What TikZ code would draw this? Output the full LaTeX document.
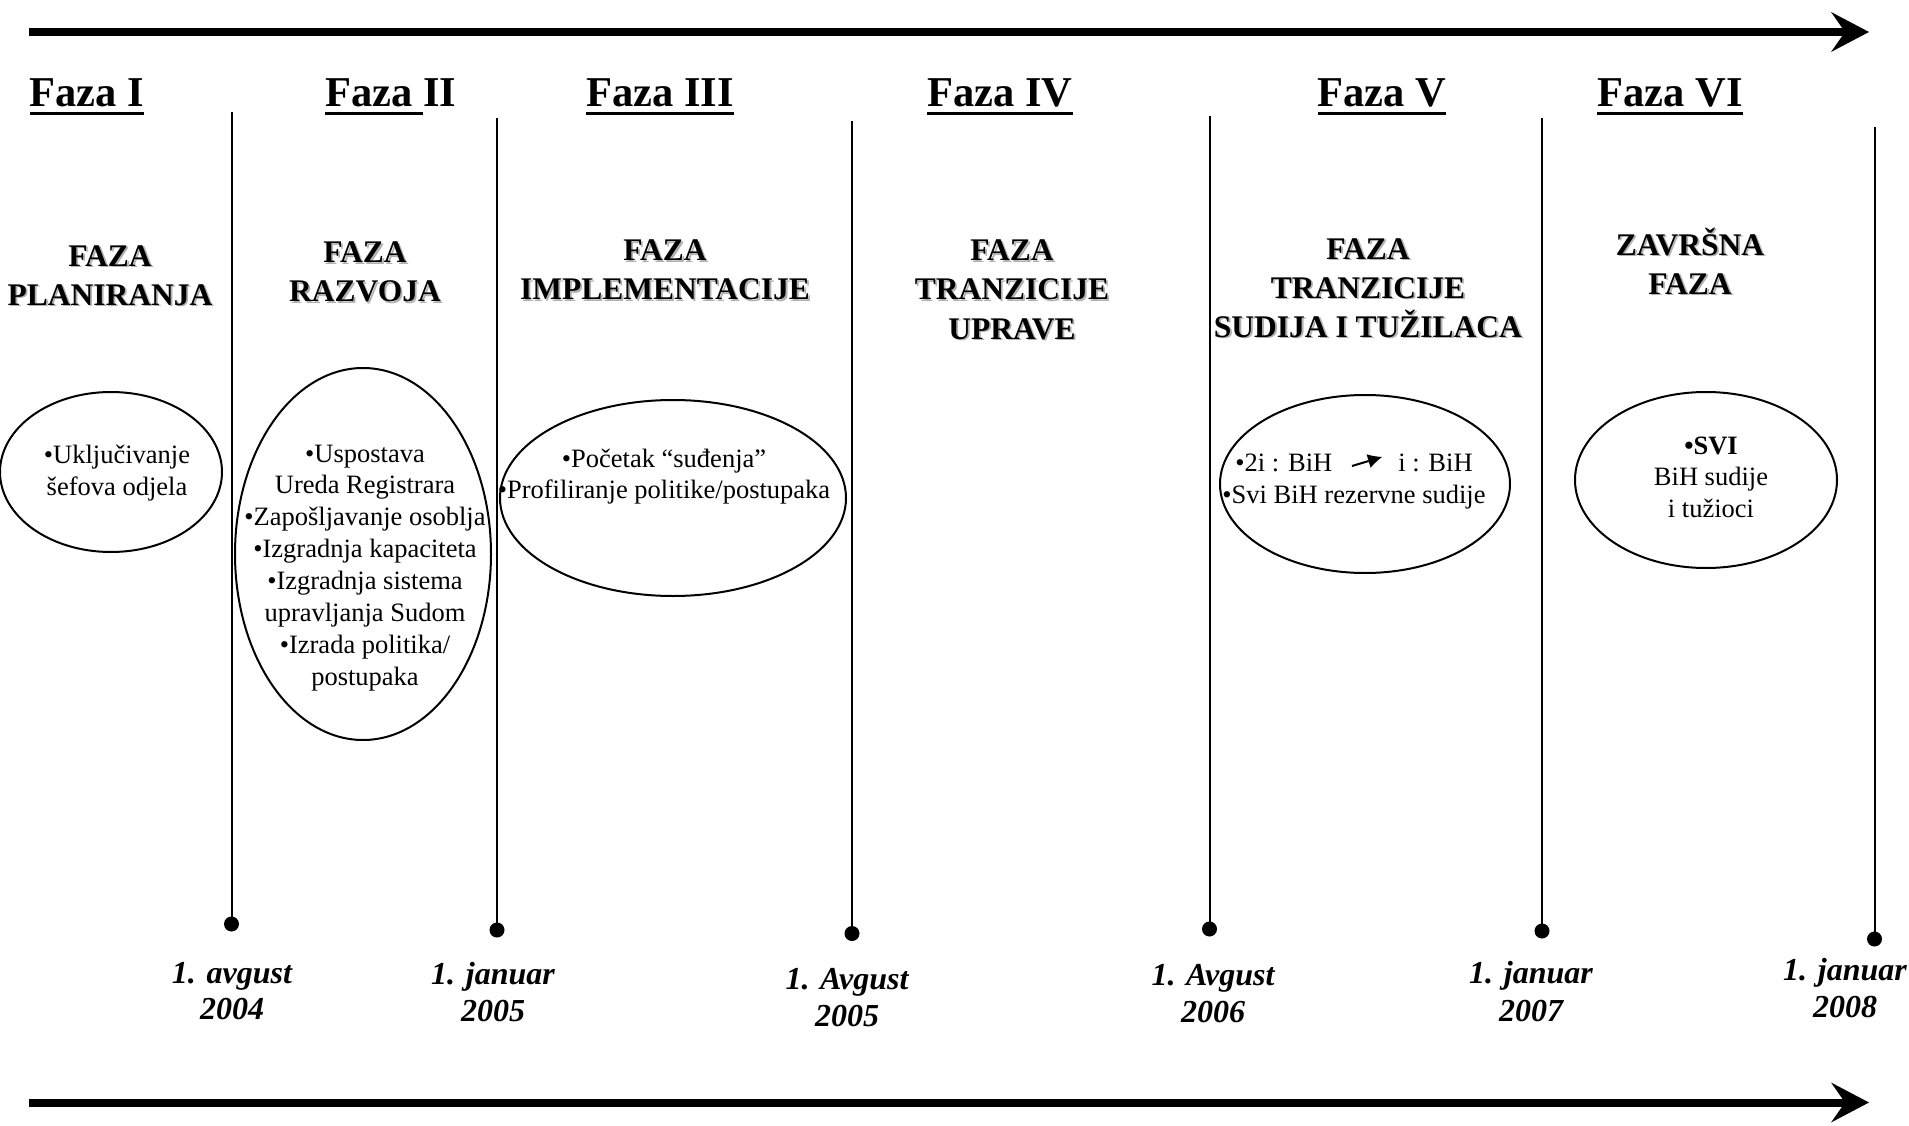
\documentclass[tikz,border=0pt]{standalone}
\usepackage{fontspec}
\setmainfont{Liberation Serif}
\usetikzlibrary{arrows.meta,shapes.geometric}
\newcommand\stk[2]{\vtop{\baselineskip=#1\relax\lineskiplimit=-100pt\halign{\hfil##\hfil\cr#2\crcr}}}
\newcommand\fazaul[1]{\setbox0\hbox{#1}\rlap{\rule[-8.5pt]{\wd0}{3.5pt}}\box0}
\begin{document}
\begin{tikzpicture}[x=1pt,y=-1pt,
  timeline/.style={line width=8pt,-{Stealth[length=38pt,width=40pt,inset=14pt,line width=0pt]}},
  vline/.style={line width=2pt},
  datedot/.style={circle,fill=black,inner sep=0pt,minimum size=15pt},
  ell/.style={ellipse,draw,line width=2pt,inner sep=0pt},
  fazatitle/.style={anchor=base,inner sep=0pt,font=\fontsize{42.5}{50}\selectfont\bfseries},
  sectitle/.style={anchor=base,inner sep=0pt,font=\fontsize{31.5}{39}\selectfont\bfseries},
  secshadow/.style={sectitle,text=black!30},
  datelbl/.style={anchor=base,inner sep=0pt,font=\fontsize{32}{37}\selectfont\bfseries\itshape},
  elltext/.style={anchor=base,inner sep=0pt,font=\fontsize{26.5}{31.5}\selectfont},
  smallarrow/.style={line width=2pt,-{Latex[length=14pt,width=14pt,line width=0pt]}}
]
\useasboundingbox (0,0) rectangle (1909,1126);

% timelines
\coordinate (ta) at (29,32);
\coordinate (tb) at (1869,32);
\draw[timeline] (ta) -- (tb);
\coordinate (ba) at (29,1102.5);
\coordinate (bb) at (1869,1102.5);
\draw[timeline] (ba) -- (bb);

% vertical separators with dots
\coordinate (v1) at (231.5,112.5); \node[datedot] (d1) at (231.5,924) {};
\coordinate (v2) at (497,118);     \node[datedot] (d2) at (497,930) {};
\coordinate (v3) at (852,121);     \node[datedot] (d3) at (852,933.5) {};
\coordinate (v4) at (1209.5,116);  \node[datedot] (d4) at (1209.5,929) {};
\coordinate (v5) at (1542,118);    \node[datedot] (d5) at (1542,931) {};
\coordinate (v6) at (1874.5,127);  \node[datedot] (d6) at (1874.5,939) {};
\foreach \i in {1,...,6} {\draw[vline] (v\i) -- (d\i.center);}

% phase titles
\node[fazatitle] (f1) at (87,107) {\fazaul{Faza I}};
\node[fazatitle] (f2) at (391,107) {\fazaul{Faza }II};
\node[fazatitle] (f3) at (660,107) {\fazaul{Faza III}};
\node[fazatitle] (f4) at (1000,107) {\fazaul{Faza IV}};
\node[fazatitle] (f5) at (1382,107) {\fazaul{Faza V}};
\node[fazatitle] (f6) at (1670,107) {\fazaul{Faza VI}};

% section titles (with shadow)
\newcommand\sect[4]{%
  \node[secshadow] (#1s) at (#2+1.8,#3+1.8) {\stk{39pt}{#4}};
  \node[sectitle] (#1) at (#2,#3) {\stk{39pt}{#4}};}
\sect{s1}{110}{266}{FAZA\cr PLANIRANJA}
\sect{s2}{365}{262.5}{FAZA\cr RAZVOJA}
\sect{s3}{665}{261}{FAZA\cr IMPLEMENTACIJE}
\sect{s4}{1012}{261}{FAZA\cr TRANZICIJE\cr UPRAVE}
\sect{s5}{1368}{259}{FAZA\cr TRANZICIJE\cr SUDIJA I TUŽILACA}
\sect{s6}{1690}{255}{ZAVRŠNA\cr FAZA}

% ellipses
\node[ell,minimum width=222pt,minimum height=160pt] (e1) at (111,472) {};
\node[ell,minimum width=256pt,minimum height=372pt] (e2) at (363,554) {};
\node[ell,minimum width=346pt,minimum height=196pt] (e3) at (673,498) {};
\node[ell,minimum width=290pt,minimum height=178pt] (e4) at (1365,484) {};
\node[ell,minimum width=262pt,minimum height=176pt] (e5) at (1706,480) {};

% ellipse texts
\node[elltext] (t1) at (117,463) {\stk{32pt}{•Uključivanje\cr šefova odjela}};
\node[elltext] (t2) at (365,462) {\stk{31.9pt}{•Uspostava\cr Ureda Registrara\cr •Zapošljavanje osoblja\cr •Izgradnja kapaciteta\cr •Izgradnja sistema\cr upravljanja Sudom\cr •Izrada politika/\cr postupaka}};
\node[elltext] (t3) at (664,467) {\stk{31pt}{•Početak “suđenja”\cr •Profiliranje politike/postupaka}};
\node[elltext] (t4) at (1354,471) {\stk{32pt}{•2i : BiH\hspace{66pt}i : BiH\cr •Svi BiH rezervne sudije}};
\node[elltext] (t5) at (1711,454) {\stk{31.5pt}{\textbf{•SVI}\cr BiH sudije\cr i tužioci}};
\coordinate (a1) at (1352,466);
\coordinate (a2) at (1382,457);
\draw[smallarrow] (a1) -- (a2);

% dates
\node[datelbl] (l1) at (232,983) {\stk{36pt}{1. avgust\cr 2004}};
\node[datelbl] (l2) at (493,984) {\stk{37pt}{1. januar\cr 2005}};
\node[datelbl] (l3) at (847,989) {\stk{37pt}{1. Avgust\cr 2005}};
\node[datelbl] (l4) at (1213,985) {\stk{37pt}{1. Avgust\cr 2006}};
\node[datelbl] (l5) at (1531,983) {\stk{38pt}{1. januar\cr 2007}};
\node[datelbl] (l6) at (1845,980) {\stk{37pt}{1. januar\cr 2008}};
\end{tikzpicture}
\end{document}
